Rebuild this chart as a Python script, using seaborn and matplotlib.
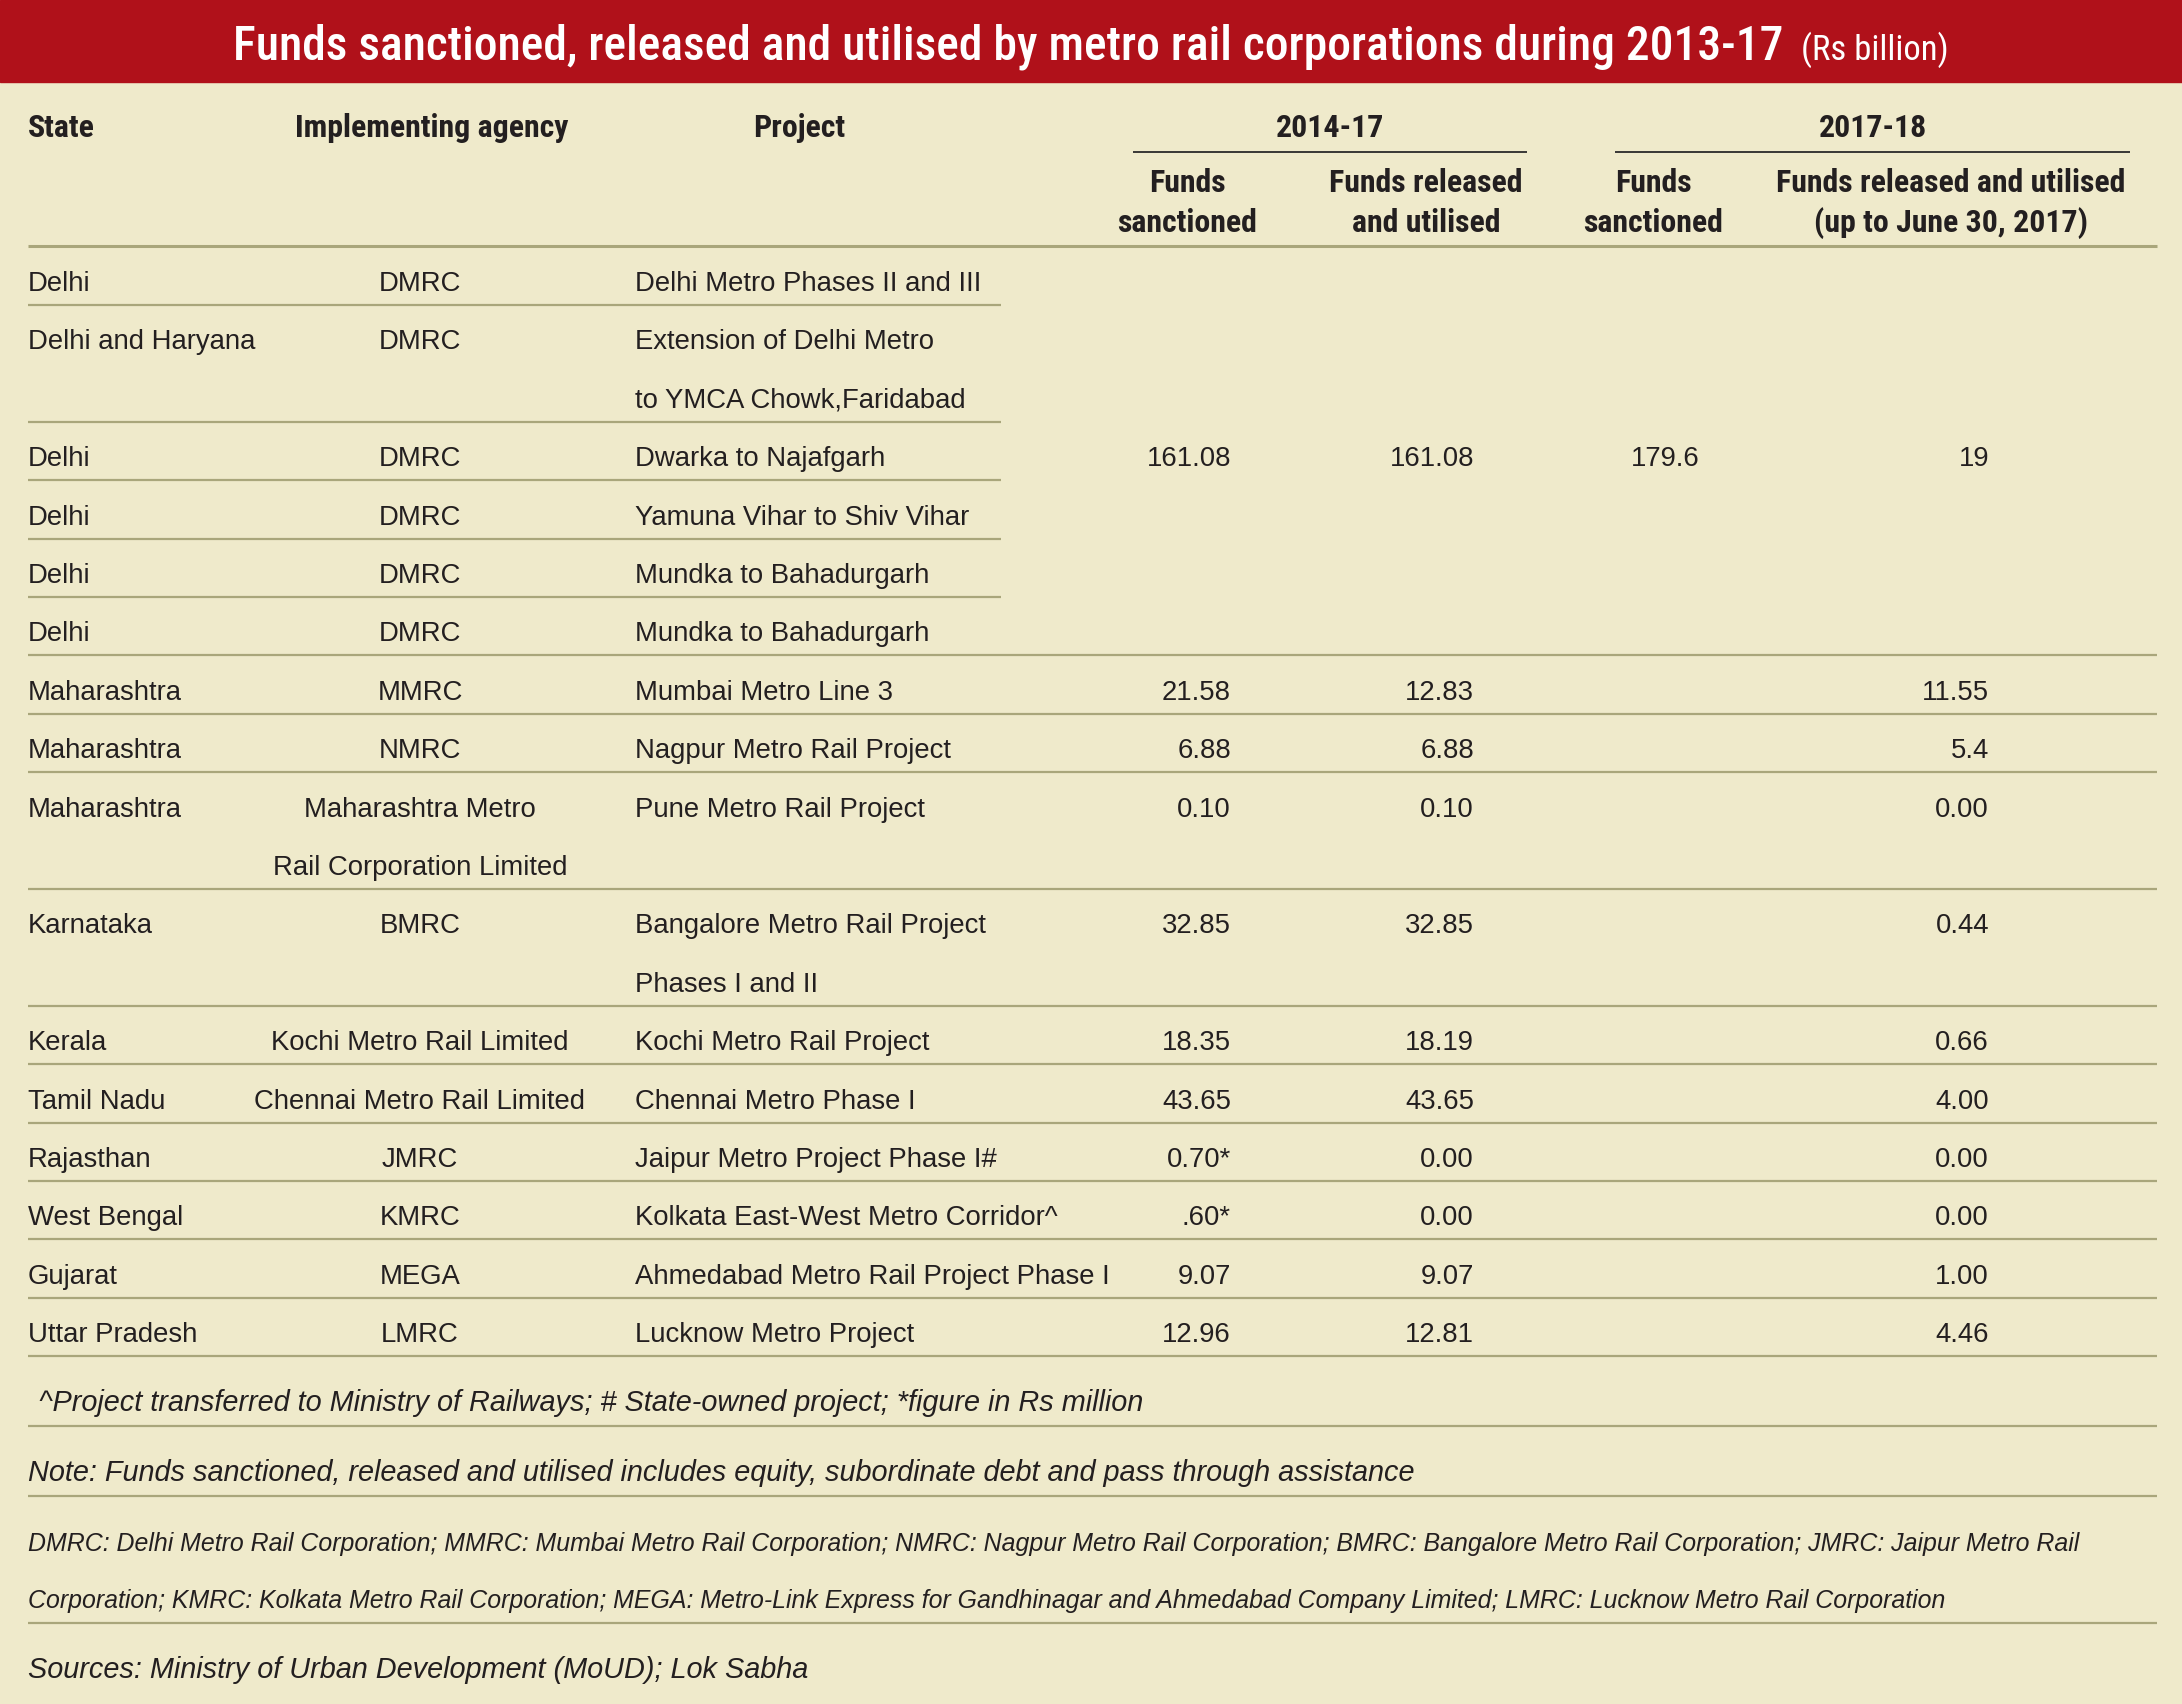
import os
import numpy as np
import pandas as pd
import matplotlib
matplotlib.use("Agg")
import matplotlib.pyplot as plt
import matplotlib.font_manager as fm
import seaborn as sns

# ------------------------------------------------------------------ data
title_main = "Funds sanctioned, released and utilised by metro rail corporations during 2013-17"
title_unit = "(Rs billion)"
column_headers = ["State", "Implementing agency", "Project"]
period_labels = ["2014-17", "2017-18"]
sub_headers = ["Funds\nsanctioned", "Funds released\nand utilised",
               "Funds\nsanctioned", "Funds released and utilised\n(up to June 30, 2017)"]

states = ["Delhi", "Delhi and Haryana", "Delhi", "Delhi", "Delhi", "Delhi",
          "Maharashtra", "Maharashtra", "Maharashtra", "Karnataka", "Kerala",
          "Tamil Nadu", "Rajasthan", "West Bengal", "Gujarat", "Uttar Pradesh"]
agencies = ["DMRC", "DMRC", "DMRC", "DMRC", "DMRC", "DMRC", "MMRC", "NMRC",
            "Maharashtra Metro\nRail Corporation Limited", "BMRC",
            "Kochi Metro Rail Limited", "Chennai Metro Rail Limited",
            "JMRC", "KMRC", "MEGA", "LMRC"]
projects = ["Delhi Metro Phases II and III",
            "Extension of Delhi Metro\nto YMCA Chowk,Faridabad",
            "Dwarka to Najafgarh", "Yamuna Vihar to Shiv Vihar",
            "Mundka to Bahadurgarh", "Mundka to Bahadurgarh",
            "Mumbai Metro Line 3", "Nagpur Metro Rail Project",
            "Pune Metro Rail Project",
            "Bangalore Metro Rail Project\nPhases I and II",
            "Kochi Metro Rail Project", "Chennai Metro Phase I",
            "Jaipur Metro Project Phase I#", "Kolkata East-West Metro Corridor^",
            "Ahmedabad Metro Rail Project Phase I", "Lucknow Metro Project"]

# the six DMRC (Delhi) rows share one merged set of figures
delhi_group_rows = 6
delhi_group_values = ["161.08", "161.08", "179.6", "19"]
# remaining rows (Maharashtra MMRC ... Uttar Pradesh)
sanctioned_2014_17 = ["21.58", "6.88", "0.10", "32.85", "18.35", "43.65", "0.70*", ".60*", "9.07", "12.96"]
released_2014_17 = ["12.83", "6.88", "0.10", "32.85", "18.19", "43.65", "0.00", "0.00", "9.07", "12.81"]
sanctioned_2017_18 = ["", "", "", "", "", "", "", "", "", ""]
released_2017_18 = ["11.55", "5.4", "0.00", "0.44", "0.66", "4.00", "0.00", "0.00", "1.00", "4.46"]

footnote_symbols = "^Project transferred to Ministry of Railways; # State-owned project; *figure in Rs million"
footnote_note = "Note: Funds sanctioned, released and utilised includes equity, subordinate debt and pass through assistance"
abbreviations = [
    "DMRC: Delhi Metro Rail Corporation; MMRC: Mumbai Metro Rail Corporation; NMRC: Nagpur Metro Rail Corporation; BMRC: Bangalore Metro Rail Corporation; JMRC: Jaipur Metro Rail",
    "Corporation; KMRC: Kolkata Metro Rail Corporation; MEGA: Metro-Link Express for Gandhinagar and Ahmedabad Company Limited; LMRC: Lucknow Metro Rail Corporation",
]
source_text = "Sources: Ministry of Urban Development (MoUD); Lok Sabha"

# ------------------------------------------------------------------ table frame
blank = [""] * delhi_group_rows
table = pd.DataFrame({
    "state": states,
    "agency": agencies,
    "project": projects,
    "sanc_1417": blank + sanctioned_2014_17,
    "rel_1417": blank + released_2014_17,
    "sanc_1718": blank + sanctioned_2017_18,
    "rel_1718": blank + released_2017_18,
})
value_cols = ["sanc_1417", "rel_1417", "sanc_1718", "rel_1718"]

# ------------------------------------------------------------------ style
RED = "#B0111A"
CREAM = "#EFEACB"
INK = "#231F20"
RULE = "#A9A67B"
DARK = "#2A2A2A"

sns.set_theme(style="white", rc={"figure.facecolor": CREAM, "axes.facecolor": CREAM,
                                 "savefig.facecolor": CREAM})
plt.rcParams["font.family"] = ["Liberation Sans", "DejaVu Sans"]


def _weight(w):
    if isinstance(w, (int, float, np.integer)):
        return int(w)
    return fm.weight_dict.get(str(w).lower(), 400)


def _is_cond(f):
    base = os.path.basename(f.fname).lower()
    s = f.stretch
    if isinstance(s, (int, float, np.integer)):
        c = s < 500
    else:
        c = str(s).lower() in ("ultra-condensed", "extra-condensed", "condensed", "semi-condensed")
    return c or any(k in base for k in ("condensed", "narrow")) or \
        any(k in f.name.lower() for k in ("condensed", "narrow"))


def pick_font(prefs, weight, italic=False, condensed=False):
    best, best_score = None, None
    for f in fm.fontManager.ttflist:
        base = os.path.basename(f.fname).lower()
        name = f.name.lower()
        if any(k in name or k in base for k in ("cjk", "mono", "symbol", "math", "display")):
            continue
        if _is_cond(f) != condensed:
            continue
        it = str(f.style).lower() in ("italic", "oblique")
        if it != italic:
            continue
        rank = None
        for i, p in enumerate(prefs):
            if name.startswith(p.lower()) or base.startswith(p.lower().replace(" ", "")):
                rank = i
                break
        if rank is None:
            continue
        w = _weight(f.weight)
        score = (rank, ("extra" in base or "ultra" in base), ("[" in base),
                 abs(w - weight), w > weight, ("semi" in base and condensed))
        if best_score is None or score < best_score:
            best, best_score = f, score
    return fm.FontProperties(fname=best.fname) if best is not None else None


PREFS = ["Roboto Condensed", "Roboto", "Open Sans", "Noto Sans", "Liberation Sans Narrow",
         "Liberation Sans", "DejaVu Sans", "Lato", "Inter"]
BODY_PREFS = ["Liberation Sans", "Roboto", "Noto Sans", "DejaVu Sans"]


def get_font(prefs, weight, italic, condensed):
    fp = pick_font(prefs, weight, italic, condensed)
    if fp is None and condensed:
        fp = pick_font(prefs, weight, italic, False)
    if fp is None:
        fp = fm.FontProperties(family="DejaVu Sans", weight=weight,
                               style="italic" if italic else "normal")
    return fp


title_fp = get_font(PREFS, 500, False, True)
unit_fp = get_font(PREFS, 400, False, True)
head_fp = get_font(PREFS, 700, False, True)
body_fp = get_font(BODY_PREFS, 400, False, False)
ital_fp = get_font(BODY_PREFS, 400, True, False)

# ------------------------------------------------------------------ figure
W, H = 2182, 1704
fig = plt.figure(figsize=(W / 100, H / 100), dpi=100)
ax = fig.add_axes([0, 0, 1, 1])
ax.set_xlim(0, W)
ax.set_ylim(H, 0)
ax.set_axis_off()
sns.despine(ax=ax, left=True, bottom=True)
renderer = fig.canvas.get_renderer()


def sized(fp, size):
    p = fp.copy()
    p.set_size(size)
    return p


def text_width(s, fp):
    t = ax.text(0, 0, s, fontproperties=fp)
    w = t.get_window_extent(renderer).width
    t.remove()
    return w


def fit(s, fp, target):
    base = 20.0
    return sized(fp, base * target / text_width(s, sized(fp, base)))


# layout geometry (pixels)
BANNER_H = 82
TITLE_BASE = 60
X_STATE, X_AGENCY_C, X_PROJECT = 28, 420, 635
HEAD_X = [28, 295, 753]
HEAD_BASE = 137
PERIOD_SPANS = [(1133, 1527), (1615, 2130)]
PERIOD_RULE_Y = 152
SUB_CENTERS = [1187, 1426, 1653, 1951]
SUB_BASES = [192, 232]
HEAD_RULE_Y = 246
NUM_RIGHT = [1231, 1474, 1700, 1989]
ROW_BASE0 = 291
LINE_H = 58.4
RULE_GAP = 14
RULE_X0, RULE_X1, PART_X1 = 28, 2157, 1001

# fonts fitted to the reference widths
f_title = fit(title_main, title_fp, 1551)
f_unit = fit(title_unit, unit_fp, 147)
f_head = fit("Funds released and utilised", head_fp, 350)
f_body = fit("Ahmedabad Metro Rail Project Phase I", body_fp, 474)
f_note = fit(footnote_note, ital_fp, 1389)
f_abbr = fit(abbreviations[0], ital_fp, 2043)

# ------------------------------------------------------------------ banner + title
ax.axhspan(0, BANNER_H, color=RED, zorder=0)
w_main = text_width(title_main, f_title)
w_unit = text_width(title_unit, f_unit)
gap = 18
x0 = W / 2 - (w_main + gap + w_unit) / 2
ax.text(x0, TITLE_BASE, title_main, fontproperties=f_title, color="white", va="baseline", ha="left")
ax.text(x0 + w_main + gap, TITLE_BASE, title_unit, fontproperties=f_unit, color="white",
        va="baseline", ha="left")

# ------------------------------------------------------------------ header
for x, lab in zip(HEAD_X, column_headers):
    ax.text(x, HEAD_BASE, lab, fontproperties=f_head, color=INK, va="baseline", ha="left")
for (a, b), lab in zip(PERIOD_SPANS, period_labels):
    ax.text((a + b) / 2, HEAD_BASE, lab, fontproperties=f_head, color=INK, va="baseline", ha="center")
    ax.hlines(PERIOD_RULE_Y, a, b, colors=DARK, linewidth=1.3)
for xc, lab in zip(SUB_CENTERS, sub_headers):
    for yb, line in zip(SUB_BASES, lab.split("\n")):
        ax.text(xc, yb, line, fontproperties=f_head, color=INK, va="baseline", ha="center")
ax.hlines(HEAD_RULE_Y, RULE_X0, RULE_X1, colors=RULE, linewidth=2.2)

# ------------------------------------------------------------------ body rows
line_idx = 0
row_first_line = []
for i, row in table.iterrows():
    n_lines = max(len(str(row[c]).split("\n")) for c in ["state", "agency", "project"])
    row_first_line.append(line_idx)
    for k, line in enumerate(row["state"].split("\n")):
        ax.text(X_STATE, ROW_BASE0 + (line_idx + k) * LINE_H, line, fontproperties=f_body,
                color=INK, va="baseline", ha="left")
    for k, line in enumerate(row["agency"].split("\n")):
        ax.text(X_AGENCY_C, ROW_BASE0 + (line_idx + k) * LINE_H, line, fontproperties=f_body,
                color=INK, va="baseline", ha="center")
    for k, line in enumerate(row["project"].split("\n")):
        ax.text(X_PROJECT, ROW_BASE0 + (line_idx + k) * LINE_H, line, fontproperties=f_body,
                color=INK, va="baseline", ha="left")
    for xr, c in zip(NUM_RIGHT, value_cols):
        if row[c]:
            ax.text(xr, ROW_BASE0 + line_idx * LINE_H, row[c], fontproperties=f_body,
                    color=INK, va="baseline", ha="right")
    line_idx += n_lines
    y_rule = ROW_BASE0 + (line_idx - 1) * LINE_H + RULE_GAP
    x_end = PART_X1 if i < delhi_group_rows - 1 else RULE_X1
    ax.hlines(y_rule, RULE_X0, x_end, colors=RULE, linewidth=1.6)

# merged Delhi figures, on the middle line of the Delhi block
merged_line = row_first_line[2]
for xr, v in zip(NUM_RIGHT, delhi_group_values):
    ax.text(xr, ROW_BASE0 + merged_line * LINE_H, v, fontproperties=f_body, color=INK,
            va="baseline", ha="right")

# ------------------------------------------------------------------ footnotes
y = ROW_BASE0 + (line_idx - 1) * LINE_H + RULE_GAP
FOOT_STEP, FOOT_RULE, ABBR_LINE = 55, 15, 57
y += FOOT_STEP
ax.text(39, y, footnote_symbols, fontproperties=f_note, color=INK, va="baseline", ha="left")
y += FOOT_RULE
ax.hlines(y, RULE_X0, RULE_X1, colors=RULE, linewidth=1.6)
y += FOOT_STEP
ax.text(28, y, footnote_note, fontproperties=f_note, color=INK, va="baseline", ha="left")
y += FOOT_RULE
ax.hlines(y, RULE_X0, RULE_X1, colors=RULE, linewidth=1.6)
y += FOOT_STEP
for k, line in enumerate(abbreviations):
    ax.text(28, y + k * ABBR_LINE, line, fontproperties=f_abbr, color=INK, va="baseline", ha="left")
y += (len(abbreviations) - 1) * ABBR_LINE + FOOT_RULE
ax.hlines(y, RULE_X0, RULE_X1, colors=RULE, linewidth=1.6)
y += FOOT_STEP
ax.text(28, y, source_text, fontproperties=f_note, color=INK, va="baseline", ha="left")

fig.savefig("out.png", dpi=100, facecolor=CREAM)
